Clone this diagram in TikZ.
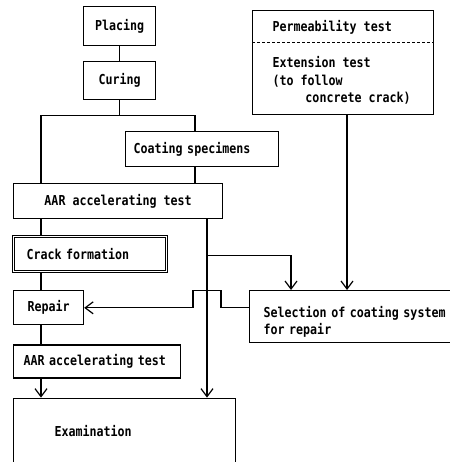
\documentclass[tikz,border=0pt]{standalone}
\usepackage{fontspec}
\setmonofont{DejaVu Sans Mono}[FakeStretch=0.85]
\usetikzlibrary{arrows.meta,calc,positioning}
\tikzset{
    block/.style = {draw, rectangle, line width=1.2pt,
        minimum height=35pt, inner ysep=0pt},
    lblock/.style 2 args = {block, inner xsep=#1, text width=#2, align=left},
    txt/.style = {inner sep=0pt, anchor=west},
}

\begin{document}
\begin{tikzpicture}[x=1pt, y=1pt, line width=1.2pt, >={Straight Barb[length=8pt,width=12pt]},
    font=\fontsize{13.7}{17.5}\selectfont\ttfamily\bfseries]
	\useasboundingbox (0,0) rectangle (449,-462);

	% specimens
	\node [block, anchor=north west, minimum width=72pt, minimum height=39pt] (placing) at (83,-6) {Placing};
	\node [block, below=15pt of placing, minimum width=72pt, minimum height=38pt] (curing) {Curing};
	\node [lblock={8pt}{137pt}, anchor=north west] (coating) at (125,-131) {Coating specimens};

	% test sequence
	\node [block, anchor=north west, minimum width=209pt] (aar1) at (13,-183) {AAR accelerating test};
	\node [lblock={13pt}{127pt}, double, double distance=0.8pt, line width=1pt,
		below=17pt of aar1.south west, anchor=north west] (crack) {Crack formation};
	\node [block, below=18pt of crack.south west, anchor=north west,
		minimum width=70pt, minimum height=34pt] (repair) {Repair};
	\node [lblock={10pt}{147pt}, below=19pt of repair.south west, anchor=north west,
		minimum height=33pt] (aar2) {AAR accelerating test};
	\node [lblock={41pt}{140pt}, below=19pt of aar2.south west, anchor=north west,
		minimum height=66pt] (exam) {Examination};

	% coating tests
	\node [block, anchor=north west, minimum width=181pt, minimum height=104pt] (perm) at (252,-10) {};
	\node [txt] (permTxt) at ($(perm.north west)+(20,-17)$) {Permeability test};
	\node [txt, anchor=north west, align=left] (extTxt) at ($(perm.north west)+(20,-46)$)
		{Extension test\\(to follow\\\hspace{2.4em}concrete crack)};
	\node [lblock={14pt}{190pt}, anchor=north west, minimum height=52pt] (select) at (249,-290)
		{\rule{0pt}{22pt}Selection of coating system\\for repair};

	% line columns
	\coordinate (lcol) at (41,0);
	\coordinate (ccol) at (195,0);
	\coordinate (rcol) at (207,0);
	\coordinate (scol) at (291,0);
	\coordinate (pcol) at (347,0);
	\coordinate [below=15pt of curing] (split);
	\coordinate (tap) at ($(aar1.south -| rcol)+(0,-36)$);

	%%lines
	\draw [dash pattern=on 3pt off 2pt, line width=1pt] ($(perm.north west)+(0,-33)$) -- ($(perm.north east)+(0,-33)$);
	\draw (placing) -- (curing);
	\draw (curing) -- (split);
	\draw (split) -| (aar1.north -| lcol);
	\draw (split) -| (coating.north -| ccol);
	\draw (coating.south -| ccol) -- (aar1.north -| ccol);
	\draw (aar1.south -| lcol) -- (crack.north -| lcol);
	\draw (crack.south -| lcol) -- (repair.north -| lcol);
	\draw (repair.south -| lcol) -- (aar2.north -| lcol);
	\draw [->] (aar2.south -| lcol) -- (exam.north -| lcol);
	\draw [->] (aar1.south -| rcol) -- (exam.north -| rcol);
	\draw [->] (tap) -| (select.north -| scol);
	\draw [->] (perm.south -| pcol) -- (select.north -| pcol);
	\draw [->] (select.west |- repair.east) -- ++(-28,0) -- ++(0,17) -- ++(-28,0) -- ++(0,-17) -- (repair.east);
\end{tikzpicture}
\end{document}
